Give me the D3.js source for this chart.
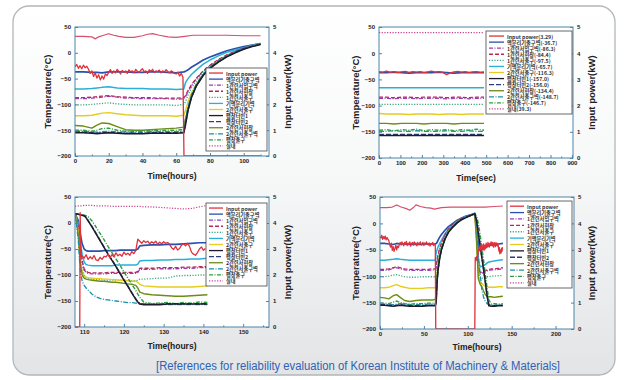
<!DOCTYPE html>
<html><head><meta charset="utf-8">
<script src="https://cdn.jsdelivr.net/npm/d3@7"></script>
<style>body{margin:0;background:#fff}svg{display:block}</style>
</head><body><svg id="c" width="626" height="380"></svg>
<script>
// ---------- legend / series names ----------
const seriesNames = ["Input power","액분리기출구벽","1관련서입구벽","1관련서현장","1관련서출구","기액분리기벽","2관련서출구","팽창터빈1","팽창터빈2","2관련서현장","2관련서출구벽","팽창출구","실내"];
const p2LegendValues = ["3.29","-36.7","-86.3","-84.4","-97.5","-65.7","-116.3","-157.0","-156.0","-134.4","-148.7","-146.7","39.3"];
const seriesColors = ["#e0303a","#2850b0","#9a3cb8","#b8285a","#3aa880","#2ab0d8","#e6cc20","#1c1c2c","#2c3c7c","#6c8c14","#1c90a8","#2ca040","#c8408c"];
const seriesDash = [null,null,"4,1.5,1,1.5","4,2","1.2,1.5",null,null,null,"5,2",null,"5,1.5,1,1.5","4,1.5,1,1.5","1.2,1.5"];
const seriesWidth = [1.3,1.7,1.3,1.3,1.3,1.5,1.4,1.5,1.4,1.4,1.3,1.4,1.2];

const tempTicks = [-200,-150,-100,-50,0,50];
const powerTicks = [0,1,2,3,4,5];

// ---------- panel 1 (hours) ----------
const p1Time = [0,5,10,13,16,20,25,30,35,40,45,50,55,60,64.5,65.5,67,69,72,76,80,85,90,95,100,105,110];
const p1SepOut = [-37,-37,-38,-38,-39,-37,-37,-37,-38,-38,-37,-37,-38,-39,-37,-36,-33,-28,-22,-14,-8,-2,4,8,12,15,18];
const p1Hx1In = [-89,-89,-88,-87,-86,-84,-86,-88,-88,-89,-89,-89,-89,-90,-89,-85,-75,-63,-50,-36,-25,-14,-5,3,9,13,17];
const p1Hx1Mid = [-87,-87,-86,-85,-84,-83,-85,-86,-87,-87,-87,-88,-88,-88,-87,-83,-73,-62,-49,-35,-24,-13,-4,3,9,13,17];
const p1Hx1Out = [-101,-101,-100,-99,-98,-97,-99,-100,-101,-101,-101,-101,-101,-102,-100,-95,-82,-68,-54,-38,-26,-15,-6,2,8,13,17];
const p1GlSep = [-70,-70,-69,-68,-67,-66,-68,-69,-69,-69,-70,-70,-70,-71,-70,-58,-50,-42,-33,-22,-14,-6,1,6,10,14,18];
const p1Hx2Out = [-122,-122,-121,-119,-117,-116,-118,-120,-121,-122,-122,-122,-122,-123,-121,-112,-95,-78,-60,-42,-29,-17,-7,1,8,13,17];
const p1Tur1 = [-155,-155,-156,-157,-156,-155,-156,-157,-157,-157,-156,-156,-156,-156,-155,-140,-112,-87,-64,-44,-30,-18,-8,0,7,12,16];
const p1Tur2 = [-154,-154,-155,-156,-155,-154,-155,-156,-156,-156,-155,-155,-155,-155,-154,-138,-110,-86,-63,-43,-29,-17,-7,1,8,13,17];
const p1Hx2Mid = [-141,-142,-146,-140,-136,-137,-143,-149,-150,-150,-149,-148,-147,-146,-144,-128,-108,-86,-63,-43,-29,-17,-7,1,8,13,17];
const p1Hx2OutW = [-152,-152,-153,-154,-153,-152,-153,-154,-154,-154,-153,-153,-153,-153,-152,-130,-104,-82,-60,-41,-28,-16,-6,2,8,13,17];
const p1ExpOut = [-150,-150,-152,-150,-147,-146,-150,-152,-152,-152,-151,-151,-150,-150,-149,-135,-108,-85,-62,-43,-29,-17,-7,1,8,13,17];
const p1RoomTime = [0,5,10,12,14,17,20,23,26,30,35,40,43,46,50,55,60,65,70,75,80,90,100,110];
const p1Room = [32,32,31,27,31,34,37,34,32,30,30,33,36,37,34,31,30,32,34,34,34,34,33,33];
const p1PowerTime = [0,1,2,3,4,5,6,7,8,9,10,11,12,13,14,15,16,17,18,19,20,21,22,23,24,25,26,27,28,29,30,31,32,33,34,35,36,37,38,39,40,41,42,43,44,45,46,47,48,49,50,51,52,53,54,55,56,57,58,59,60,61,62,63,64,64.6,110];
const p1Power = [3.45,3.55,3.4,3.5,3.38,3.52,3.42,3.48,3.36,
  3.2,3.3,3.08,3.22,3.02,3.15,2.95,3.1,2.98,3.18,3.12,
  3.25,3.35,3.2,3.3,3.22,3.36,3.28,3.18,3.32,3.24,3.3,3.2,3.34,3.26,3.3,3.22,3.36,3.28,3.24,3.32,
  3.38,3.26,3.3,3.2,3.34,3.28,3.36,3.24,3.3,3.27,3.33,3.22,3.3,3.25,3.35,3.28,3.22,3.3,3.26,3.2,
  3.18,3.25,3.1,3.2,3.05,0,0];

// ---------- panel 2 (sec) ----------
const p2Time = [0,35,70,105,140,175,210,245,280,315,350,385,420,455,490];
const p2SepOut = [-37,-37,-36,-37,-38,-37,-37,-37,-36,-37,-38,-37,-37,-37,-37];
const p2Hx1In = [-86,-86,-87,-86,-86,-87,-86,-86,-86,-87,-86,-86,-87,-86,-86];
const p2Hx1Mid = [-84,-84,-85,-84,-84,-85,-84,-84,-84,-85,-84,-84,-85,-84,-84];
const p2Hx1Out = [-97.5,-97.5,-97.5,-97.5,-97.5,-97.5,-97.5,-97.5,-97.5,-97.5,-97.5,-97.5,-97.5,-97.5,-97.5];
const p2GlSep = [-66,-66,-66,-66,-66,-66,-66,-66,-66,-66,-66,-66,-66,-66,-66];
const p2Hx2Out = [-115,-116,-116,-116,-117,-116,-116,-116,-117,-116,-116,-117,-116,-116,-116];
const p2Tur1 = [-157,-157,-157,-157,-157,-157,-157,-157,-157,-157,-157,-157,-157,-157,-157];
const p2Tur2 = [-155,-155,-155,-155,-155,-155,-155,-155,-155,-155,-155,-155,-155,-155,-155];
const p2Hx2Mid = [-134,-134,-135,-134,-134,-134,-135,-134,-134,-134,-135,-134,-134,-134,-134];
const p2Hx2OutW = [-149,-149,-148,-149,-149,-148,-149,-149,-149,-148,-149,-149,-148,-149,-149];
const p2ExpOut = [-147,-146,-148,-146,-147,-145,-148,-146,-147,-146,-148,-146,-147,-145,-147];
const p2Room = [39.3,39.3,39.3,39.3,39.3,39.3,39.3,39.3,39.3,39.3,39.3,39.3,39.3,39.3,39.3];
const p2PowerTime = [0,17.5,35,52.5,70,87.5,105,122.5,140,157.5,175,192.5,210,227.5,245,262.5,280,297.5,315,332.5,350,367.5,385,402.5,420,437.5,455,472.5,490];
const p2Power = [3.3,3.28,3.32,3.27,3.3,3.26,3.29,3.31,3.27,3.3,3.28,3.3,3.26,3.29,3.32,3.28,3.3,3.27,3.18,3.25,3.29,3.31,3.28,3.3,3.26,3.29,3.3,3.27,3.29];

// ---------- panel 3 (hours) ----------
const p3Time = [107.7,108.5,109,109.5,110,110.5,111,112,113,114,115,116,117,118,119,120,121,122,123,123.5,124,125,127,129,131,133,135,137,139,141];
const p3SepOut = [18,5,-20,-40,-50,-53,-54,-54,-54,-54,-53,-53,-53,-53,-52,-52,-52,-52,-52,-50,-44,-43,-42,-42,-41,-41,-40,-39,-38,-38];
const p3Hx1In = [18,-5,-45,-75,-90,-95,-97,-98,-98,-98,-98,-97,-97,-97,-97,-97,-97,-97,-97,-95,-89,-89,-89,-88,-88,-88,-87,-87,-86,-86];
const p3Hx1Mid = [18,-4,-43,-73,-88,-93,-95,-96,-96,-96,-96,-95,-95,-95,-95,-95,-95,-95,-95,-93,-87,-87,-87,-86,-86,-86,-85,-85,-84,-84];
const p3Hx1Out = [18,-10,-55,-85,-100,-105,-107,-108,-109,-109,-110,-110,-110,-110,-110,-110,-111,-111,-111,-110,-108,-108,-107,-106,-106,-102,-101,-101,-100,-100];
const p3GlSep = [18,0,-35,-60,-75,-80,-81,-82,-82,-82,-82,-82,-82,-81,-81,-81,-81,-81,-81,-79,-73,-72,-72,-71,-71,-70,-70,-69,-69,-68];
const p3Hx2Out = [18,-15,-70,-95,-102,-104,-105,-106,-107,-107,-108,-108,-109,-109,-110,-110,-111,-112,-112,-114,-118,-121,-122,-123,-123,-123,-123,-123,-122,-121];
const p3Tur1 = [18,17,16,15,14,10,4,-8,-21,-34,-47,-60,-72,-84,-97,-110,-122,-135,-147,-152,-156,-157,-157,-157,-156,-156,-156,-156,-156,-156];
const p3Tur2 = [18,17,16,15,14,11,5,-7,-20,-33,-46,-59,-71,-83,-96,-109,-121,-134,-146,-151,-155,-156,-156,-156,-155,-155,-155,-155,-155,-155];
const p3Hx2Mid = [18,-20,-75,-100,-106,-108,-109,-110,-111,-112,-112,-113,-114,-114,-115,-116,-117,-118,-120,-125,-133,-136,-138,-139,-140,-141,-141,-140,-139,-138];
const p3Hx2OutW = [18,-30,-90,-112,-120,-125,-129,-137,-142,-145,-147,-148,-149,-150,-151,-152,-153,-153,-154,-154,-155,-155,-156,-156,-157,-157,-157,-157,-157,-157];
const p3ExpOut = [18,17,16,15,15,14,12,4,-8,-20,-32,-45,-57,-69,-81,-94,-106,-118,-130,-137,-143,-152,-155,-154,-153,-155,-153,-154,-152,-153];
const p3Room = [32,33,33,33,34,34,34,34,33,33,33,33,32,32,32,32,32,32,32,32,32,31,31,30,29,28,27,28,31,34];
const p3PowerTime = [107.7,108.9,109,109.2,109.5,110,110.5,111,111.5,112,112.5,113,113.5,114,114.5,115,115.5,116,116.5,117,117.5,118,118.5,119,119.5,120,120.5,121,121.5,122,122.5,123,123.5,124,124.5,125,125.5,126,126.5,127,127.5,128,128.5,129,129.5,130,130.5,131,131.5,132,132.5,133,133.5,134,134.5,135,135.5,136,136.5,137,137.5,138,138.5,139,139.5,140,140.5];
const p3Power = [0,0,4.4,2.7,
  2.72,2.65,2.78,2.6,2.7,2.62,2.75,2.58,2.55,2.68,2.6,2.72,
  2.7,2.8,2.66,2.78,2.7,2.85,2.74,2.8,2.72,2.88,2.78,2.84,2.76,2.9,2.82,2.95,
  3.38,3.3,3.22,3.32,3.25,3.3,3.2,3.28,3.22,3.3,3.18,3.26,3.2,3.28,3.22,3.25,3.18,
  3.05,2.98,3.1,2.96,3.02,3.15,3.2,3.12,3.22,
  3.1,2.88,2.8,2.76,2.86,
  3.0,3.08,2.95,3.02];

// ---------- panel 4 (hours) ----------
const p4Time = [0,5,10,15,19,23,28,34,41,48,55,60,63,64,65,66,68,70,74,78,83,88,93,98,103,108,110,112,114,116,118,120,122,124,127,130,135,140];
const p4SepOut = [-38,-38,-39,-40,-38,-39,-39,-40,-40,-40,-39,-39,-39,-38,-36,-32,-26,-21,-13,-6,0,6,10,14,16,19,0,-40,-52,-50,-48,-46,-44,-42,-41,-40,-39,-38];
const p4Hx1In = [-89,-89,-88,-85,-84,-86,-88,-89,-89,-89,-89,-88,-88,-85,-72,-62,-48,-38,-22,-12,-3,4,9,13,16,18,-20,-85,-95,-94,-93,-92,-90,-89,-88,-88,-87,-86];
const p4Hx1Mid = [-87,-87,-86,-84,-82,-84,-86,-87,-87,-87,-87,-86,-86,-83,-70,-60,-47,-37,-21,-11,-2,5,9,13,16,18,-18,-83,-93,-92,-91,-90,-88,-87,-86,-86,-85,-84];
const p4Hx1Out = [-101,-101,-100,-98,-97,-99,-101,-102,-102,-101,-101,-101,-101,-97,-82,-70,-54,-42,-25,-13,-4,3,8,12,15,18,-25,-92,-104,-104,-103,-102,-101,-101,-100,-100,-99,-99];
const p4GlSep = [-70,-70,-69,-68,-67,-68,-69,-70,-70,-70,-70,-70,-70,-55,-50,-45,-38,-32,-20,-11,-3,4,9,13,16,19,-10,-70,-82,-81,-80,-78,-75,-73,-72,-71,-70,-69];
const p4Hx2Out = [-122,-122,-121,-118,-116,-119,-121,-123,-123,-123,-122,-122,-122,-115,-95,-80,-60,-46,-28,-15,-5,3,8,12,15,18,-30,-100,-110,-114,-117,-119,-120,-121,-121,-121,-120,-120];
const p4Tur1 = [-155,-155,-156,-157,-156,-155,-156,-157,-157,-157,-156,-156,-156,-150,-112,-90,-66,-50,-30,-17,-7,1,7,11,15,18,5,-18,-42,-65,-88,-112,-138,-156,-157,-157,-156,-156];
const p4Tur2 = [-154,-154,-155,-156,-155,-154,-155,-156,-156,-156,-155,-155,-155,-148,-110,-89,-65,-49,-29,-16,-6,2,8,12,15,18,7,-16,-40,-63,-86,-110,-136,-154,-156,-156,-155,-155];
const p4Hx2Mid = [-140,-141,-143,-137,-135,-140,-146,-148,-146,-145,-145,-145,-144,-130,-105,-87,-64,-49,-29,-16,-6,2,8,12,15,18,-35,-105,-115,-120,-128,-135,-138,-139,-139,-140,-139,-138];
const p4Hx2OutW = [-153,-153,-154,-154,-153,-152,-153,-154,-154,-154,-153,-153,-153,-145,-108,-88,-64,-48,-29,-16,-6,2,8,12,15,18,-5,-60,-95,-125,-140,-148,-152,-154,-155,-155,-155,-155];
const p4ExpOut = [-151,-151,-152,-149,-147,-150,-152,-153,-152,-152,-151,-151,-150,-140,-108,-88,-64,-48,-29,-16,-6,2,8,12,15,18,14,0,-20,-45,-70,-96,-122,-145,-153,-152,-153,-152];
const p4RoomTime = [0,8,14,19,24,30,34,38,41,46,52,58,62,70,80,90,100,110,120,130,140];
const p4Room = [30,30,31,35,31,28,25,30,35,32,30,29,27,30,31,31,31,31,31,32,33];
const p4PowerTime = [0,1,2,3,4,5,6,7,8,9,10,11,12,13,14,15,16,17,18,19,20,21,22,23,24,25,26,27,28,29,30,31,32,33,34,35,36,37,38,39,40,41,42,43,44,45,46,47,48,49,50,51,52,53,54,55,56,57,58,59,60,61,62,63,63.5,108,108.5,
  109,109.5,110,110.5,111,111.5,112,112.5,113,113.5,114,114.5,115,115.5,116,116.5,117,117.5,118,118.5,119,119.5,120,120.5,121,121.5,122,122.5,123,123.5,124,124.5,125,125.5,126,126.5,127,127.5,128,128.5,129,129.5,130,130.5,131,131.5,132,132.5,133,133.5,134,134.5,135,135.5,136,136.5,137,137.5,138,138.5,139,139.5];
const p4Power = [3.5,3.45,3.55,3.4,3.5,3.42,3.52,3.38,3.46,3.4,3.36,
  3.2,3.1,3.25,2.98,3.12,2.94,3.05,3.18,3.0,3.14,3.08,3.2,
  3.28,3.18,3.3,3.22,3.15,3.28,3.2,3.32,3.16,3.25,3.2,3.3,3.14,3.24,3.28,3.18,3.3,3.22,3.26,3.15,3.28,3.2,3.24,3.3,3.18,3.22,3.28,3.16,3.26,3.2,3.3,3.22,3.18,3.26,3.14,3.24,3.2,3.28,3.16,3.22,3.18,
  0,0,2.7,
  2.68,2.62,2.74,2.6,2.7,2.85,2.95,
  3.05,2.98,3.1,3.02,3.15,2.96,3.08,3.2,3.0,3.12,3.05,3.22,2.98,3.1,3.18,3.04,3.14,3.25,3.08,3.2,3.12,3.28,3.15,3.22,3.1,3.2,
  3.25,3.18,3.3,3.2,3.26,3.15,3.28,3.22,3.1,3.24,3.18,3.28,3.12,3.22,3.16,3.26,3.2,3.14,3.22,
  3.05,2.95,3.08,2.85,2.92,3.0,2.88,3.05,2.95,3.1];

// ---------- layout ----------
const panels = [
  {x0:75,x1:269,y0:27,y1:156,xd:[0,115],ticks:[0,20,40,60,80,100],minor:[10,30,50,70,90,110],xTitle:"Time(hours)",xTitleY:176,lt:47,rt:287,
   leg:{x:206,y:68,w:61,h:83,sw:14},roomSolid:true,
   temps:[[12,p1RoomTime,p1Room],[1,p1Time,p1SepOut],[5,p1Time,p1GlSep],[2,p1Time,p1Hx1In],[3,p1Time,p1Hx1Mid],[4,p1Time,p1Hx1Out],[6,p1Time,p1Hx2Out],[9,p1Time,p1Hx2Mid],[10,p1Time,p1Hx2OutW],[11,p1Time,p1ExpOut],[8,p1Time,p1Tur2],[7,p1Time,p1Tur1]],
   power:[p1PowerTime,p1Power]},
  {x0:379,x1:573,y0:27,y1:158,xd:[0,905],ticks:[0,100,200,300,400,500,600,700,800,900],minor:[50,150,250,350,450,550,650,750,850],xTitle:"Time(sec)",xTitleY:178,lt:355,rt:591,
   leg:{x:486,y:31,w:86,h:83,sw:15},values:p2LegendValues,
   temps:[[12,p2Time,p2Room],[1,p2Time,p2SepOut],[5,p2Time,p2GlSep],[2,p2Time,p2Hx1In],[3,p2Time,p2Hx1Mid],[4,p2Time,p2Hx1Out],[6,p2Time,p2Hx2Out],[9,p2Time,p2Hx2Mid],[10,p2Time,p2Hx2OutW],[11,p2Time,p2ExpOut],[8,p2Time,p2Tur2],[7,p2Time,p2Tur1]],
   power:[p2PowerTime,p2Power]},
  {x0:75,x1:269,y0:197,y1:327,xd:[107.7,156.5],ticks:[110,120,130,140,150],minor:[115,125,135,145,155],xTitle:"Time(hours)",xTitleY:346,lt:47,rt:287,
   leg:{x:206,y:203,w:61,h:83,sw:14},
   temps:[[12,p3Time,p3Room],[1,p3Time,p3SepOut],[5,p3Time,p3GlSep],[2,p3Time,p3Hx1In],[3,p3Time,p3Hx1Mid],[4,p3Time,p3Hx1Out],[6,p3Time,p3Hx2Out],[9,p3Time,p3Hx2Mid],[10,p3Time,p3Hx2OutW],[11,p3Time,p3ExpOut],[8,p3Time,p3Tur2],[7,p3Time,p3Tur1]],
   power:[p3PowerTime,p3Power]},
  {x0:380,x1:574,y0:197,y1:329,xd:[0,221],ticks:[0,50,100,150,200],minor:[25,75,125,175],xTitle:"Time(hours)",xTitleY:347,lt:355,rt:591,
   leg:{x:507,y:201,w:65,h:87,sw:14},roomSolid:true,
   temps:[[12,p4RoomTime,p4Room],[1,p4Time,p4SepOut],[5,p4Time,p4GlSep],[2,p4Time,p4Hx1In],[3,p4Time,p4Hx1Mid],[4,p4Time,p4Hx1Out],[6,p4Time,p4Hx2Out],[9,p4Time,p4Hx2Mid],[10,p4Time,p4Hx2OutW],[11,p4Time,p4ExpOut],[8,p4Time,p4Tur2],[7,p4Time,p4Tur1]],
   power:[p4PowerTime,p4Power]}
];

const svg = d3.select("#c");
const defs = svg.append("defs");
const g = defs.append("linearGradient").attr("id","bg").attr("x1",0).attr("y1",0).attr("x2",0).attr("y2",1);
g.append("stop").attr("offset","0%").attr("stop-color","#ffffff");
g.append("stop").attr("offset","45%").attr("stop-color","#f7f8f8");
g.append("stop").attr("offset","100%").attr("stop-color","#e2e4e6");
svg.append("rect").attr("width",626).attr("height",380).attr("fill","#fff");
svg.append("rect").attr("x",13).attr("y",6).attr("width",602).attr("height",369).attr("rx",16)
  .attr("fill","url(#bg)").attr("stroke","#b3b7bb").attr("stroke-width",1.3);

const axisColor = "#4d85a8";
const FONT = "'Liberation Sans', Arial, sans-serif";
const KFONT = "'Noto Sans CJK KR', 'Liberation Sans', sans-serif";

panels.forEach((p,pi) => {
  const xs = d3.scaleLinear().domain(p.xd).range([p.x0,p.x1]);
  const ys = d3.scaleLinear().domain([-200,50]).range([p.y1,p.y0]);
  const yr = d3.scaleLinear().domain([0,5]).range([p.y1,p.y0]);
  const gp = svg.append("g");
  const cid = "clip"+pi;
  defs.append("clipPath").attr("id",cid).append("rect").attr("x",p.x0).attr("y",p.y0).attr("width",p.x1-p.x0).attr("height",p.y1-p.y0);
  gp.append("rect").attr("x",p.x0).attr("y",p.y0).attr("width",p.x1-p.x0).attr("height",p.y1-p.y0).attr("fill","#fff");

  const lines = gp.append("g").attr("clip-path",`url(#${cid})`);
  const lineT = d3.line().x(d=>xs(d[0])).y(d=>ys(d[1]));
  const lineP = d3.line().x(d=>xs(d[0])).y(d=>yr(d[1]));
  p.temps.forEach(([idx,ts,vs]) => {
    let dash = seriesDash[idx], col = seriesColors[idx];
    if (idx === 12 && p.roomSolid) { dash = null; col = "#d4506e"; }
    lines.append("path").datum(ts.map((t,i)=>[t,vs[i]]))
      .attr("d",lineT).attr("fill","none").attr("stroke",col)
      .attr("stroke-width",seriesWidth[idx]).attr("stroke-dasharray",dash)
      .attr("stroke-linejoin","round");
  });
  lines.append("path").datum(p.power[0].map((t,i)=>[t,p.power[1][i]]))
    .attr("d",lineP).attr("fill","none").attr("stroke",seriesColors[0])
    .attr("stroke-width",1.3).attr("stroke-linejoin","round");

  // frame
  gp.append("rect").attr("x",p.x0).attr("y",p.y0).attr("width",p.x1-p.x0).attr("height",p.y1-p.y0)
    .attr("fill","none").attr("stroke",axisColor).attr("stroke-width",1);

  const styleAxis = sel => {
    sel.select(".domain").remove();
    sel.selectAll("line").attr("stroke",axisColor);
    sel.selectAll("text").attr("font-family",FONT).attr("font-weight","bold").attr("font-size",6).attr("fill","#222");
  };
  gp.append("g").attr("transform",`translate(0,${p.y1})`)
    .call(d3.axisBottom(xs).tickValues(p.ticks).tickSize(-3).tickPadding(3).tickFormat(d3.format("d"))).call(styleAxis);
  gp.append("g").attr("transform",`translate(0,${p.y1})`)
    .call(d3.axisBottom(xs).tickValues(p.minor).tickSize(-1.6).tickFormat("")).call(styleAxis);
  gp.append("g").attr("transform",`translate(${p.x0},0)`)
    .call(d3.axisLeft(ys).tickValues(tempTicks).tickSize(-3).tickPadding(4).tickFormat(d3.format("d"))).call(styleAxis);
  gp.append("g").attr("transform",`translate(${p.x1},0)`)
    .call(d3.axisRight(yr).tickValues(powerTicks).tickSize(-3).tickPadding(4).tickFormat(d3.format("d"))).call(styleAxis);

  // titles
  gp.append("text").attr("transform",`translate(${p.lt},${(p.y0+p.y1)/2}) rotate(-90)`)
    .attr("text-anchor","middle").attr("dominant-baseline","central")
    .attr("font-family",FONT).attr("font-weight","bold").attr("font-size",9.5).attr("fill","#222").text("Temperature(°C)");
  gp.append("text").attr("transform",`translate(${p.rt},${(p.y0+p.y1)/2}) rotate(-90)`)
    .attr("text-anchor","middle").attr("dominant-baseline","central")
    .attr("font-family",FONT).attr("font-weight","bold").attr("font-size",9.5).attr("fill","#222").text("Input power(kW)");
  gp.append("text").attr("x",(p.x0+p.x1)/2).attr("y",p.xTitleY).attr("text-anchor","middle").attr("dominant-baseline","central")
    .attr("font-family",FONT).attr("font-weight","bold").attr("font-size",8.5).attr("fill","#222").text(p.xTitle);

  // legend
  const L = p.leg;
  const lg = gp.append("g");
  lg.append("rect").attr("x",L.x).attr("y",L.y).attr("width",L.w).attr("height",L.h)
    .attr("fill","#fff").attr("stroke","#444").attr("stroke-width",0.8);
  const rowH = (L.h-4)/seriesNames.length;
  seriesNames.forEach((nm,i) => {
    const cy = L.y + 2 + rowH*(i+0.5);
    lg.append("line").attr("x1",L.x+3).attr("x2",L.x+3+L.sw).attr("y1",cy).attr("y2",cy)
      .attr("stroke",seriesColors[i]).attr("stroke-width",1.3).attr("stroke-dasharray",seriesDash[i]);
    const label = p.values ? `${nm}(${p.values[i]})` : nm;
    lg.append("text").attr("x",L.x+6+L.sw).attr("y",cy).attr("dominant-baseline","central")
      .attr("font-family",KFONT).attr("font-weight","bold").attr("font-size",5.2).attr("fill","#333").text(label);
  });
});

svg.append("text").attr("x",358).attr("y",366).attr("text-anchor","middle").attr("dominant-baseline","central")
  .attr("font-family","'Liberation Sans Narrow', 'Liberation Sans', sans-serif").attr("font-size",12.5).attr("fill","#2f62b4")
  .attr("textLength",404).attr("lengthAdjust","spacingAndGlyphs")
  .text("[References for reliability evaluation of Korean Institute of Machinery & Materials]");
</script></body></html>
